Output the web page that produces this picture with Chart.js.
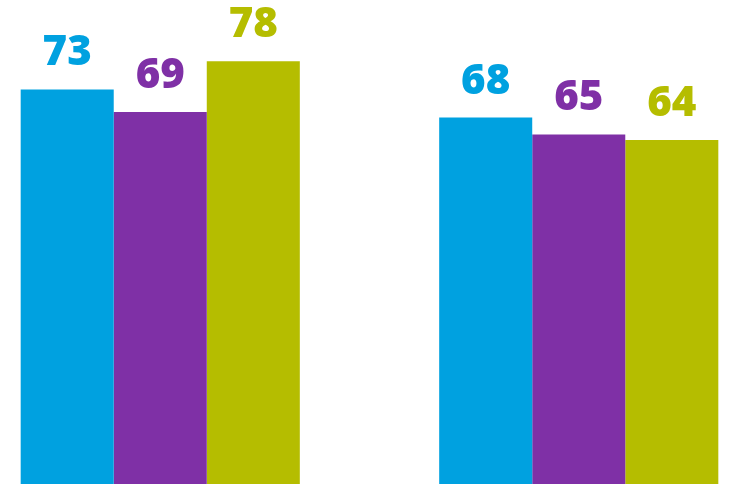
<!DOCTYPE html>
<html>
<head>
<meta charset="utf-8">
<script src="https://cdn.jsdelivr.net/npm/chart.js@4/dist/chart.umd.min.js"></script>
<style>
  html, body { margin: 0; padding: 0; background: #fff; overflow: hidden; width: 734px; height: 484px; }
  #wrap { position: absolute; left: -49px; top: 0; width: 837px; height: 500px; }
</style>
</head>
<body>
<div id="wrap"><canvas id="barChart"></canvas></div>
<script>
var groups = ['A', 'B'];
var seriesBlue = [73, 68];
var seriesPurple = [69, 65];
var seriesGreen = [78, 64];

var colors = ['#00A1E0', '#7F30A6', '#B5BD00'];

// draw the value above each bar
var valueLabels = {
  id: 'valueLabels',
  afterDatasetsDraw: function(chart) {
    var ctx = chart.ctx;
    ctx.save();
    ctx.font = '800 42px "Open Sans"';
    ctx.textAlign = 'center';
    ctx.textBaseline = 'alphabetic';
    chart.data.datasets.forEach(function(ds, i) {
      chart.getDatasetMeta(i).data.forEach(function(bar, j) {
        ctx.fillStyle = ds.backgroundColor;
        ctx.fillText(ds.data[j], bar.x, bar.y - 24);
      });
    });
    ctx.restore();
  }
};

document.addEventListener('DOMContentLoaded', function() {
  var ctx = document.getElementById('barChart').getContext('2d');
  new Chart(ctx, {
    type: 'bar',
    data: {
      labels: groups,
      datasets: [
        { data: seriesBlue, backgroundColor: colors[0] },
        { data: seriesPurple, backgroundColor: colors[1] },
        { data: seriesGreen, backgroundColor: colors[2] }
      ]
    },
    options: {
      responsive: true,
      maintainAspectRatio: false,
      animation: false,
      categoryPercentage: 0.667,
      barPercentage: 1.0,
      layout: { padding: 0 },
      plugins: { legend: { display: false }, tooltip: { enabled: false } },
      scales: {
        x: { display: false },
        y: { display: false, min: 0, max: 88.9 }
      }
    },
    plugins: [valueLabels]
  });
});
</script>
</body>
</html>
